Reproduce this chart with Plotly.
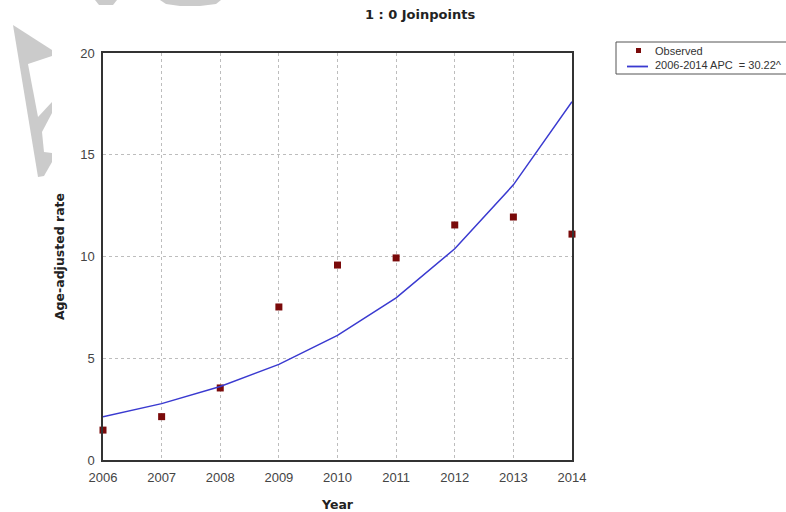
import plotly.graph_objects as go

years = [2006, 2007, 2008, 2009, 2010, 2011, 2012, 2013, 2014]
observed = [1.47, 2.13, 3.54, 7.52, 9.58, 9.93, 11.55, 11.94, 11.10]
modeled = [2.13, 2.77, 3.61, 4.70, 6.12, 7.97, 10.38, 13.52, 17.61]
obs_label = "Observed"
apc_label = "2006-2014 APC  = 30.22^"

OBS_COLOR = "#7a0a0a"
FIT_COLOR = "#3a3ad0"
MARK_GRAY = "#cbcbcb"

fig = go.Figure()
fig.add_trace(go.Scatter(
    x=years, y=observed, mode="markers", name=obs_label,
    marker=dict(symbol="square", size=7, color=OBS_COLOR, line=dict(width=0)),
    cliponaxis=False,
))
fig.add_trace(go.Scatter(
    x=years, y=modeled, mode="lines", name=apc_label,
    line=dict(color=FIT_COLOR, width=1.5),
))

axis_common = dict(
    showline=True, linecolor="#333333", linewidth=1.5, mirror=True,
    showgrid=True, gridcolor="#bdbdbd", griddash="dot", gridwidth=1,
    zeroline=False, ticks="",
    tickfont=dict(family="Liberation Sans, Arial", size=13, color="#444444"),
)
title_font = dict(family="DejaVu Sans", size=12.5, color="#222222")

# pixel -> paper helpers for the decorations in the margins
PX0, PW, PY0, PH = 103, 469, 460, 407
def px(x):
    return (x - PX0) / PW
def py(y):
    return (PY0 - y) / PH

def poly(points, color):
    d = "M " + " L ".join(f"{px(x):.5f},{py(y):.5f}" for x, y in points) + " Z"
    return dict(type="path", xref="paper", yref="paper", path=d,
                fillcolor=color, line=dict(width=0), layer="below")

# faint gray stamp fragments in the top-left margin
stamp = [
    poly([(13, 25), (52, 50), (52, 162), (44, 176), (38, 177)], MARK_GRAY),
    poly([(28, 64), (52, 56), (52, 102), (38, 117)], "white"),
    poly([(42, 132), (52, 113), (52, 153), (44, 152)], "white"),
    poly([(95, 0), (117, 0), (113, 5), (99, 5)], MARK_GRAY),
    poly([(160, 0), (221, 0), (216, 4), (200, 6), (180, 6), (166, 4)], MARK_GRAY),
]

legend_shapes = [
    dict(type="rect", xref="paper", yref="paper",
         x0=px(616), x1=px(792), y0=py(74), y1=py(42),
         line=dict(color="#555555", width=1), fillcolor="white", layer="above"),
    dict(type="rect", xref="paper", yref="paper",
         x0=px(636), x1=px(641), y0=py(53), y1=py(48),
         line=dict(width=0), fillcolor=OBS_COLOR, layer="above"),
    dict(type="line", xref="paper", yref="paper",
         x0=px(627), x1=px(648), y0=py(66.5), y1=py(66.5),
         line=dict(color=FIT_COLOR, width=1.8), layer="above"),
]
annotations = [
    dict(text=obs_label, xref="paper", yref="paper", x=px(653), y=py(51),
         xanchor="left", yanchor="middle", showarrow=False,
         font=dict(family="Liberation Sans, Arial", size=11, color="#333333")),
    dict(text=apc_label, xref="paper", yref="paper", x=px(653), y=py(65.5),
         xanchor="left", yanchor="middle", showarrow=False,
         font=dict(family="Liberation Sans, Arial", size=11, color="#333333")),
]

fig.update_layout(
    width=786, height=512,
    margin=dict(l=103, r=214, t=53, b=52, autoexpand=False),
    paper_bgcolor="white", plot_bgcolor="white",
    title=dict(text="<b>1 : 0 Joinpoints</b>", x=420 / 786, xanchor="center",
               y=1 - 14 / 512, yanchor="middle",
               font=dict(family="DejaVu Sans", size=13, color="#222222")),
    xaxis=dict(axis_common, range=[2006, 2014], tickvals=years,
               ticklabelstandoff=5,
               title=dict(text="<b>Year</b>", standoff=16, font=title_font)),
    yaxis=dict(axis_common, range=[0, 20], tickvals=[0, 5, 10, 15, 20],
               ticklabelstandoff=4,
               title=dict(text="<b>Age-adjusted rate</b>", standoff=13,
                          font=title_font)),
    shapes=stamp + legend_shapes,
    annotations=annotations,
    showlegend=False,
)

fig.write_html("out.html")
